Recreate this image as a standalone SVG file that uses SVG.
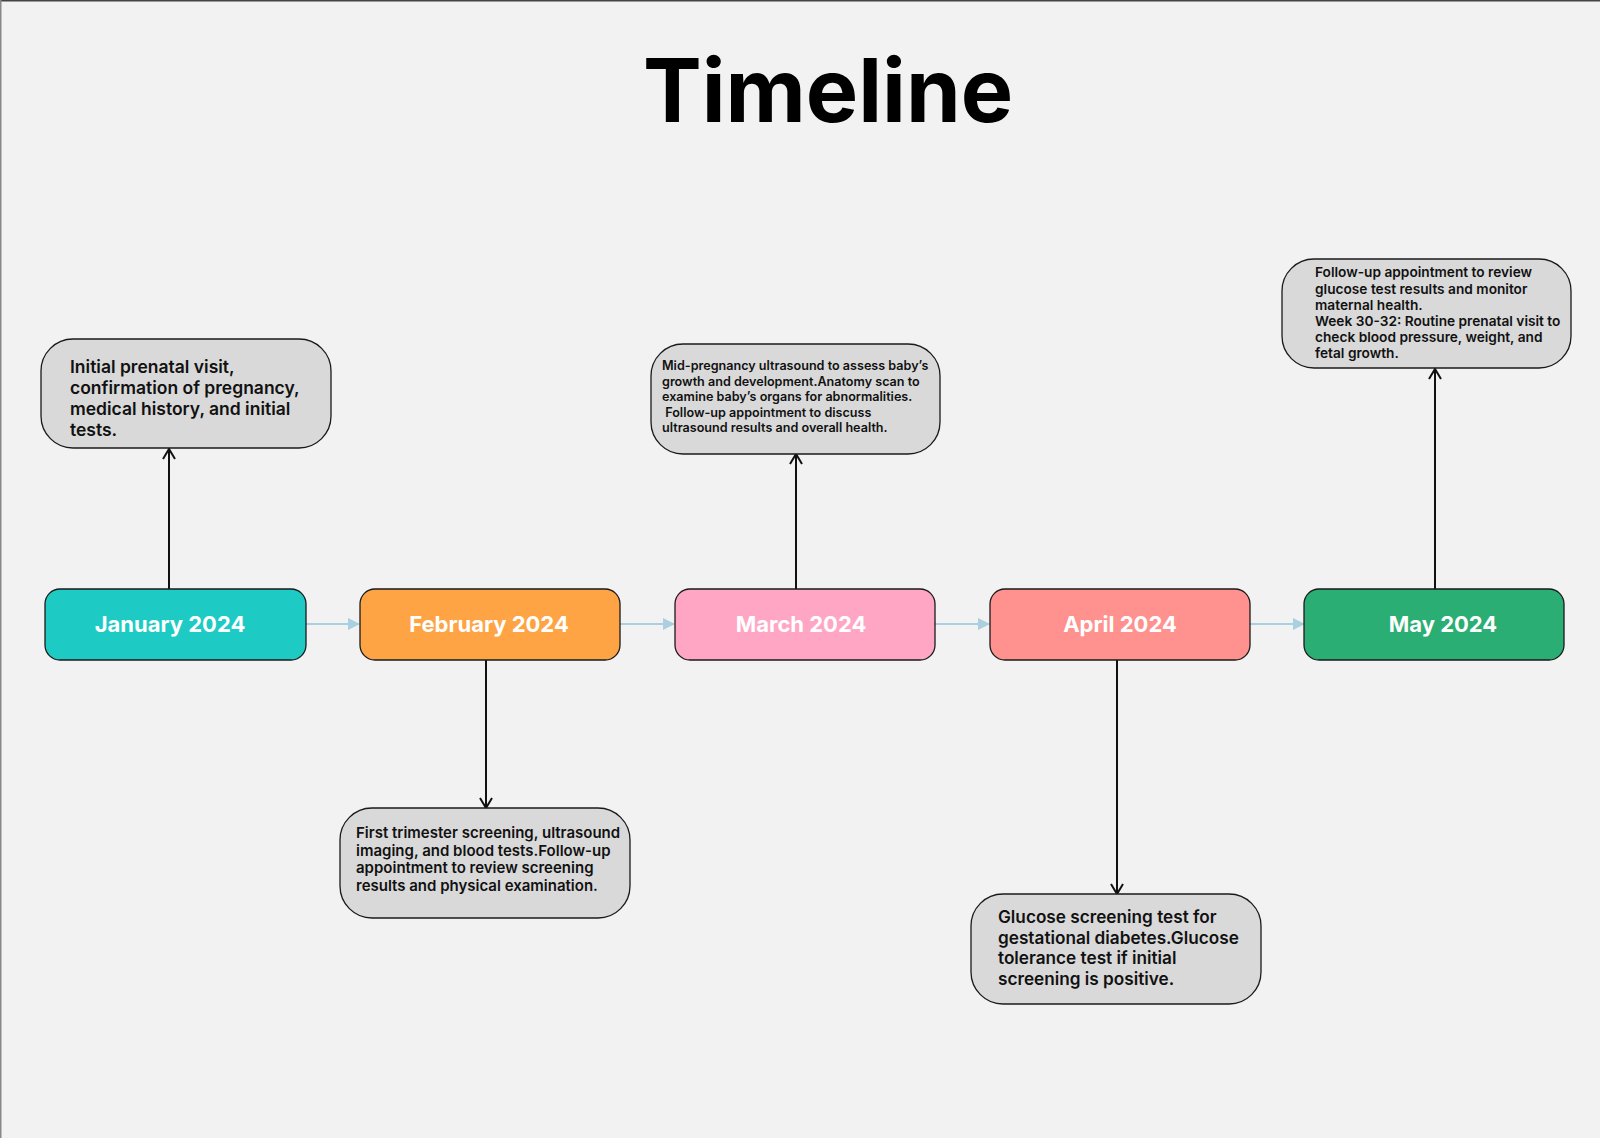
<svg xmlns="http://www.w3.org/2000/svg" width="1600" height="1138" viewBox="0 0 1600 1138">
<defs>
<style>
.bg{fill:#f2f2f2}
.month{stroke:#1a1a1a;stroke-width:1.3}
.mlabel{font-family:Inter,"Liberation Sans",sans-serif;font-weight:700;font-size:22px;fill:#ffffff;text-anchor:middle}
.desc{fill:#d9d9d9;stroke:#1a1a1a;stroke-width:1.3}
.dtext{font-family:Inter,"Liberation Sans",sans-serif;font-weight:600;fill:#111111}
.title{font-family:Inter,"Liberation Sans",sans-serif;font-weight:700;font-size:88px;fill:#000;text-anchor:middle}
.flow{stroke:#a9cfe0;stroke-width:2;fill:none}
.link{stroke:#111;stroke-width:2;fill:none}
</style>
<marker id="blueHead" viewBox="0 0 12 12" refX="11" refY="6" markerWidth="12" markerHeight="12" markerUnits="userSpaceOnUse" orient="auto">
<path d="M0,0 L12,6 L0,12 Z" fill="#a9cfe0"/>
</marker>
<marker id="openHead" viewBox="0 0 14 14" refX="12" refY="7" markerWidth="14" markerHeight="14" markerUnits="userSpaceOnUse" orient="auto">
<path d="M2,1 L12,7 L2,13" fill="none" stroke="#111" stroke-width="2"/>
</marker>
</defs>
<rect class="bg" x="0" y="0" width="1600" height="1138"/>
<line x1="0" y1="0.75" x2="1600" y2="0.75" stroke="#444" stroke-width="1.5"/>
<line x1="0.75" y1="0" x2="0.75" y2="1138" stroke="#888" stroke-width="1.5"/>

<text class="title" x="828" y="122">Timeline</text>

<g id="connectors">
<line class="flow" x1="306" y1="624" x2="359" y2="624" marker-end="url(#blueHead)"/>
<line class="flow" x1="620" y1="624" x2="674" y2="624" marker-end="url(#blueHead)"/>
<line class="flow" x1="935" y1="624" x2="989" y2="624" marker-end="url(#blueHead)"/>
<line class="flow" x1="1250" y1="624" x2="1304" y2="624" marker-end="url(#blueHead)"/>
<line class="link" x1="169" y1="589" x2="169" y2="449" marker-end="url(#openHead)"/>
<line class="link" x1="486" y1="660" x2="486" y2="808" marker-end="url(#openHead)"/>
<line class="link" x1="796" y1="589" x2="796" y2="454" marker-end="url(#openHead)"/>
<line class="link" x1="1117" y1="660" x2="1117" y2="894" marker-end="url(#openHead)"/>
<line class="link" x1="1435" y1="589" x2="1435" y2="369" marker-end="url(#openHead)"/>
</g>

<g id="jan">
<rect class="month" x="45" y="589" width="261" height="71" rx="15" fill="#1ecbc4"/>
<text class="mlabel" x="170" y="632">January 2024</text>
</g>
<g id="feb">
<rect class="month" x="360" y="589" width="260" height="71" rx="15" fill="#ffa445"/>
<text class="mlabel" x="489" y="632">February 2024</text>
</g>
<g id="mar">
<rect class="month" x="675" y="589" width="260" height="71" rx="15" fill="#ffa6c4"/>
<text class="mlabel" x="801" y="632">March 2024</text>
</g>
<g id="apr">
<rect class="month" x="990" y="589" width="260" height="71" rx="15" fill="#ff918e"/>
<text class="mlabel" x="1120" y="632">April 2024</text>
</g>
<g id="may">
<rect class="month" x="1304" y="589" width="260" height="71" rx="15" fill="#2bae73"/>
<text class="mlabel" x="1443" y="632">May 2024</text>
</g>

<g id="jan-desc">
<rect class="desc" x="41" y="339" width="290" height="109" rx="32"/>
<text class="dtext" font-size="17.5">
<tspan x="70" y="373">Initial prenatal visit,</tspan>
<tspan x="70" y="394">confirmation of pregnancy,</tspan>
<tspan x="70" y="415">medical history, and initial</tspan>
<tspan x="70" y="436">tests.</tspan>
</text>
</g>
<g id="feb-desc">
<rect class="desc" x="340" y="808" width="290" height="110" rx="32"/>
<text class="dtext" font-size="15">
<tspan x="356" y="838">First trimester screening, ultrasound</tspan>
<tspan x="356" y="855.5">imaging, and blood tests.Follow-up</tspan>
<tspan x="356" y="873">appointment to review screening</tspan>
<tspan x="356" y="890.5">results and physical examination.</tspan>
</text>
</g>
<g id="mar-desc">
<rect class="desc" x="651" y="344" width="289" height="110" rx="32"/>
<text class="dtext" font-size="12.6">
<tspan x="662" y="370">Mid-pregnancy ultrasound to assess baby’s</tspan>
<tspan x="662" y="385.5">growth and development.Anatomy scan to</tspan>
<tspan x="662" y="401">examine baby’s organs for abnormalities.</tspan>
<tspan x="662" y="416.5" xml:space="preserve"> Follow-up appointment to discuss</tspan>
<tspan x="662" y="432">ultrasound results and overall health.</tspan>
</text>
</g>
<g id="apr-desc">
<rect class="desc" x="971" y="894" width="290" height="110" rx="32"/>
<text class="dtext" font-size="17.2">
<tspan x="998" y="923">Glucose screening test for</tspan>
<tspan x="998" y="944">gestational diabetes.Glucose</tspan>
<tspan x="998" y="964">tolerance test if initial</tspan>
<tspan x="998" y="985">screening is positive.</tspan>
</text>
</g>
<g id="may-desc">
<rect class="desc" x="1282" y="259" width="289" height="109" rx="32"/>
<text class="dtext" font-size="13.7">
<tspan x="1315" y="277">Follow-up appointment to review</tspan>
<tspan x="1315" y="293.5">glucose test results and monitor</tspan>
<tspan x="1315" y="310">maternal health.</tspan>
<tspan x="1315" y="326">Week 30-32: Routine prenatal visit to</tspan>
<tspan x="1315" y="342">check blood pressure, weight, and</tspan>
<tspan x="1315" y="358">fetal growth.</tspan>
</text>
</g>
</svg>
